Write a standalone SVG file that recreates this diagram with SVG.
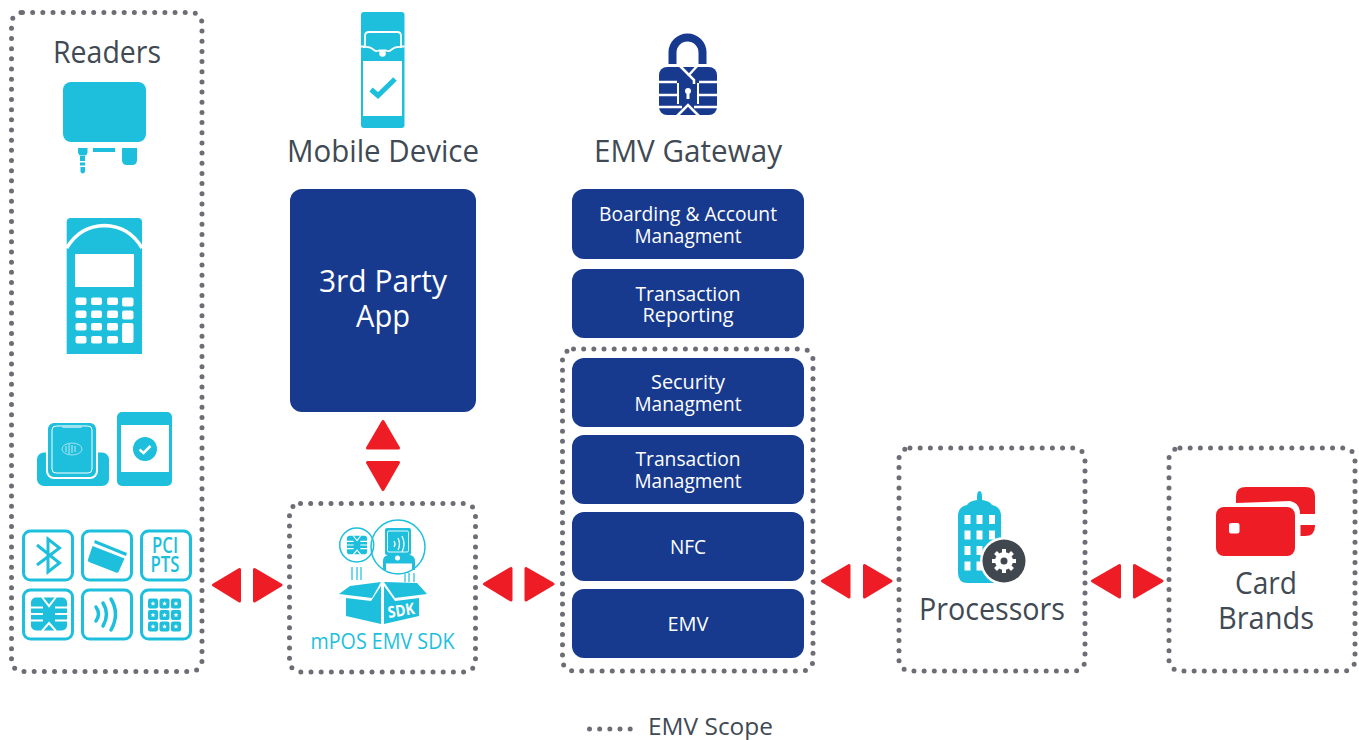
<svg xmlns="http://www.w3.org/2000/svg" xmlns:xlink="http://www.w3.org/1999/xlink" width="1359" height="740" viewBox="0 0 1359 740">
<style>
text{font-family:"Open Sans","Noto Sans","Liberation Sans",sans-serif;text-anchor:middle}
.h{font-size:31px;fill:#3f4a54}
.w{font-size:20px;fill:#fff}
.dot{fill:none;stroke:#6d6e75;stroke-width:5;stroke-linecap:round;stroke-dasharray:0 10.17}
.b{fill:#173a8e}
.c{fill:#1dbfdd}
.r{fill:#ee1c25;stroke:#ee1c25;stroke-width:3;stroke-linejoin:round}
.t{fill:none;stroke:#1dbfdd;stroke-width:3}
.wl{fill:none;stroke:#fff;stroke-width:2}
.wf{fill:#fff}
</style>
<defs>
<g id="chip">
<rect x="-18" y="-16.500" width="36" height="33" rx="5"/>
<g fill="none" stroke="#fff" stroke-width="2">
<path d="M-19-6.500H-6M-19 0H-6M-19 6.500H-6M19-6.500H6M19 0H6M19 6.500H6"/>
<path d="M-7-17L0-8L7-17M-7 17L0 9L7 17"/>
</g>
</g>
<polygon id="star" points="0,-2.400 .7,-.8 2.400,-.7 1.100,.4 1.500,2.100 0,1.200 -1.500,2.100 -1.100,.4 -2.400,-.7 -.7,-.8" fill="#fff"/>
</defs>

<g id="connectors">
<path class="r" d="M213.500 585L239.500 569.500V601Z"/>
<path class="r" d="M281 585L254.500 569.500V601Z"/>
<path class="r" d="M484.500 584L511 568.500V600Z"/>
<path class="r" d="M553 584L526 568.500V600Z"/>
<path class="r" d="M822.500 581L849 565.500V597Z"/>
<path class="r" d="M891 581L864.500 565.500V597Z"/>
<path class="r" d="M1092.500 581L1119.500 565.500V597Z"/>
<path class="r" d="M1162 581L1134.500 565.500V597Z"/>
<path class="r" d="M383 421.500L367.500 448H398.500Z"/>
<path class="r" d="M383 489.500L367.500 462.500H398.500Z"/>
</g>

<g id="readers">
<rect class="dot" x="11.500" y="12.500" width="190.500" height="659" rx="11"/>
<text class="h" x="107" y="63" textLength="108" lengthAdjust="spacingAndGlyphs">Readers</text>
<g class="c">
<rect x="63" y="82" width="83" height="60" rx="8"/>
<path d="M78 148H87.500V152.500Q87 155 85 155.500H80.500Q78.500 155 78 152.500Z"/>
<rect x="80" y="156" width="5" height="5"/>
<rect x="80" y="162.500" width="5" height="3"/>
<path d="M80.500 167H85V171.500Q84.500 173.500 82.800 173.500Q81 173.500 80.500 171.500Z"/>
<rect x="93" y="148" width="22" height="4"/>
<path d="M122 148H137V160Q137 165 132 165H127Q122 165 122 160Z"/>
</g>
<g>
<path class="c" d="M66.700 222Q66.700 218 70.700 218H138Q142 218 142 222V354H66.700Z"/>
<path d="M66.700 248Q80 226 104.400 225.500Q129 226 142 248" fill="none" stroke="#fff" stroke-width="3.500"/>
<rect class="wf" x="75" y="254" width="59" height="33" rx="1"/>
<g class="wf">
<rect x="75.500" y="297.500" width="11" height="7.500" rx="2"/><rect x="91" y="297.500" width="11" height="7.500" rx="2"/><rect x="107" y="297.500" width="11" height="7.500" rx="2"/><rect x="122" y="297.500" width="11.500" height="9" rx="2"/>
<rect x="75.500" y="310.500" width="11" height="7.500" rx="2"/><rect x="91" y="310.500" width="11" height="7.500" rx="2"/><rect x="107" y="310.500" width="11" height="7.500" rx="2"/><rect x="122" y="310.500" width="11.500" height="9" rx="2"/>
<rect x="75.500" y="323" width="11" height="7.500" rx="2"/><rect x="91" y="323" width="11" height="7.500" rx="2"/><rect x="107" y="323" width="11" height="7.500" rx="2"/><rect x="122" y="323" width="11.500" height="20" rx="2"/>
<rect x="75.500" y="336" width="11" height="7.500" rx="2"/><rect x="91" y="336" width="11" height="7.500" rx="2"/><rect x="107" y="336" width="11" height="7.500" rx="2"/>
</g>
</g>
<g>
<rect class="c" x="37" y="452.500" width="72" height="33.500" rx="7"/>
<rect class="c" x="47" y="422" width="50" height="56" rx="7" stroke="#fff" stroke-width="2"/>
<rect x="52" y="426" width="40" height="47" rx="4" fill="none" stroke="#fff" stroke-width="1"/>
<rect x="62" y="425" width="20" height="3" rx="1.500" fill="#9fe3f0"/>
<ellipse cx="72" cy="449" rx="10" ry="6" fill="none" stroke="#bfeaf4" stroke-width=".8"/>
<path d="M66 446V452M69 444V454M72 445V453M75 446V452" stroke="#bfeaf4" stroke-width="1" fill="none"/>
<rect class="c" x="117" y="412" width="55" height="74" rx="5"/>
<rect class="wf" x="121" y="425" width="48" height="47"/>
<circle class="c" cx="145" cy="449" r="12"/>
<path d="M139.500 449.500L143.500 453L150.500 446" fill="none" stroke="#fff" stroke-width="2.500"/>
</g>
<rect class="t" x="23.500" y="531" width="49" height="49" rx="7"/>
<rect class="t" x="82.500" y="531" width="49" height="49" rx="7"/>
<rect class="t" x="141.500" y="531" width="49" height="49" rx="7"/>
<rect class="t" x="23.500" y="590" width="49" height="49" rx="7"/>
<rect class="t" x="82.500" y="590" width="49" height="49" rx="7"/>
<rect class="t" x="141.500" y="590" width="49" height="49" rx="7"/>
<path d="M37 545L59.500 563L48 572V539L59.500 548L37 565" fill="none" stroke="#1dbfdd" stroke-width="3"/>
<g class="c">
<path d="M95 540L127 553L126 556L94 543Z"/>
<path d="M92.500 546L124.500 558.500L118.500 572Q117.500 573 116 572.500L89 562Q87.500 561 88 559.500Z"/>
</g>
<text x="165" y="553" font-size="21" font-weight="600" style="fill:#1dbfdd" textLength="26" lengthAdjust="spacingAndGlyphs">PCI</text>
<text x="165" y="572" font-size="21" font-weight="600" style="fill:#1dbfdd" textLength="29" lengthAdjust="spacingAndGlyphs">PTS</text>
<use xlink:href="#chip" href="#chip" class="c" transform="translate(49 614)"/>
<path d="M96 607Q101 614 96 621M103 603Q110 614 103 626M111 599Q120 614 111 630" fill="none" stroke="#1dbfdd" stroke-width="3.500" stroke-linecap="round"/>
<g class="c">
<rect x="148" y="598.500" width="10" height="10" rx="2"/><rect x="159.500" y="598.500" width="10" height="10" rx="2"/><rect x="171" y="598.500" width="10" height="10" rx="2"/>
<rect x="148" y="610" width="10" height="10" rx="2"/><rect x="159.500" y="610" width="10" height="10" rx="2"/><rect x="171" y="610" width="10" height="10" rx="2"/>
<rect x="148" y="621.500" width="10" height="10" rx="2"/><rect x="159.500" y="621.500" width="10" height="10" rx="2"/><rect x="171" y="621.500" width="10" height="10" rx="2"/>
</g>
<use xlink:href="#star" href="#star" x="153" y="603.500"/><use xlink:href="#star" href="#star" x="164.500" y="603.500"/><use xlink:href="#star" href="#star" x="176" y="603.500"/>
<use xlink:href="#star" href="#star" x="153" y="615"/><use xlink:href="#star" href="#star" x="164.500" y="615"/><use xlink:href="#star" href="#star" x="176" y="615"/>
<use xlink:href="#star" href="#star" x="153" y="626.500"/><use xlink:href="#star" href="#star" x="164.500" y="626.500"/><use xlink:href="#star" href="#star" x="176" y="626.500"/>
</g>

<g id="mobile-device">
<rect class="c" x="361" y="12" width="43.500" height="116" rx="3"/>
<rect class="wf" x="363" y="61" width="39" height="55"/>
<path d="M361 46.500H365V36Q365 32 369 32H397Q401 32 401 36V46.500H404.500" fill="none" stroke="#fff" stroke-width="1.800"/>
<path d="M363 47Q370 46 374 50Q376 52 379 50.500H386Q389 52 391 50Q395 46 402 47" fill="none" stroke="#fff" stroke-width="1.800"/>
<circle class="wf" cx="382.500" cy="53.500" r="3.300"/>
<path d="M371 89.500L378 95.500L395 79" fill="none" stroke="#1dbfdd" stroke-width="5"/>
<text class="h" x="383" y="162" textLength="192" lengthAdjust="spacingAndGlyphs">Mobile Device</text>
</g>

<g id="third-party-app">
<rect class="b" x="290" y="189" width="186" height="223" rx="12"/>
<text x="383" y="292" font-size="31" fill="#fff" textLength="128" lengthAdjust="spacingAndGlyphs">3rd Party</text>
<text x="383" y="327" font-size="31" fill="#fff" textLength="54" lengthAdjust="spacingAndGlyphs">App</text>
</g>

<g id="mpos-sdk">
<rect class="dot" x="289.500" y="503.500" width="186" height="168.500" rx="11"/>
<circle cx="356.700" cy="545" r="17" fill="none" stroke="#1dbfdd" stroke-width="1.500"/>
<circle cx="398" cy="547" r="27" fill="none" stroke="#1dbfdd" stroke-width="1.500"/>
<use xlink:href="#chip" href="#chip" class="c" transform="translate(357 545) scale(.56)"/>
<g class="c">
<rect x="385" y="528" width="26" height="27" rx="2"/>
<path d="M383 570V561Q383 556 388 555H410Q415 556 415 561V570H412V563.500H386V570Z"/>
</g>
<rect x="387.500" y="531" width="21" height="21" rx="1.500" fill="none" stroke="#fff" stroke-width=".9"/>
<circle class="wf" cx="397.500" cy="558" r="2.500"/>
<path d="M394 541Q396 544 394 547M398 538Q401 544 398 550M402 536Q406 544 402 552" fill="none" stroke="#fff" stroke-width="1.300"/>
<path d="M352 567V580M357 567V580M361 567V580M405 574V582M409 573V582M414 573V582" stroke="#1dbfdd" stroke-width="1.200" fill="none"/>
<g class="c">
<path d="M339 594L350 586L381 582L372 598Z"/>
<path d="M384 582L417 583L427 594L395 598Z"/>
<path d="M346 598L371 601L381 586V624L346 616Z"/>
<path d="M384 586L395 601L419 598V616L384 624Z"/>
</g>
<text transform="translate(402 616) rotate(-9)" font-size="16" font-weight="700" fill="#fff" textLength="27" lengthAdjust="spacingAndGlyphs">SDK</text>
<text x="382.500" y="649" font-size="21" style="fill:#1dbfdd" textLength="144" lengthAdjust="spacingAndGlyphs">mPOS EMV SDK</text>
</g>

<g id="emv-gateway">
<path d="M672.500 64V52.500A15 15 0 0 1 702.500 52.500V64" fill="none" stroke="#173a8e" stroke-width="8"/>
<rect class="b" x="659" y="67" width="58" height="48" rx="8"/>
<g fill="none" stroke="#fff" stroke-width="2.500">
<path d="M657 82H677M657 95H677M699 82H719M699 95H719M657 107H682M694 107H719"/>
<path d="M679 65L694 80V84M698 65L688 76M677 116L688 105L699 116"/>
</g>
<rect class="wf" x="677" y="83" width="2" height="21"/><rect class="wf" x="697" y="83" width="2" height="21"/>
<circle class="wf" cx="688" cy="91" r="3"/>
<rect class="wf" x="686.500" y="92" width="3" height="7"/>
<text class="h" x="688" y="162" textLength="188" lengthAdjust="spacingAndGlyphs">EMV Gateway</text>
<rect class="dot" x="562.500" y="349" width="250.500" height="322" rx="11"/>
</g>
<g id="boarding"><rect class="b" x="572" y="189" width="232" height="70" rx="12"/><text class="w" x="688" y="221" textLength="178" lengthAdjust="spacingAndGlyphs">Boarding &amp; Account</text><text class="w" x="688" y="243" textLength="107" lengthAdjust="spacingAndGlyphs">Managment</text></g>
<g id="reporting"><rect class="b" x="572" y="269" width="232" height="69" rx="12"/><text class="w" x="688" y="301" textLength="105" lengthAdjust="spacingAndGlyphs">Transaction</text><text class="w" x="688" y="322" textLength="91" lengthAdjust="spacingAndGlyphs">Reporting</text></g>
<g id="security"><rect class="b" x="572" y="358" width="232" height="69" rx="12"/><text class="w" x="688" y="389" textLength="74" lengthAdjust="spacingAndGlyphs">Security</text><text class="w" x="688" y="411" textLength="107" lengthAdjust="spacingAndGlyphs">Managment</text></g>
<g id="transaction"><rect class="b" x="572" y="435" width="232" height="69" rx="12"/><text class="w" x="688" y="466" textLength="105" lengthAdjust="spacingAndGlyphs">Transaction</text><text class="w" x="688" y="488" textLength="107" lengthAdjust="spacingAndGlyphs">Managment</text></g>
<g id="nfc"><rect class="b" x="572" y="512" width="232" height="69" rx="12"/><text class="w" x="688" y="554" textLength="36" lengthAdjust="spacingAndGlyphs">NFC</text></g>
<g id="emv"><rect class="b" x="572" y="589" width="232" height="69" rx="12"/><text class="w" x="688" y="631" textLength="41" lengthAdjust="spacingAndGlyphs">EMV</text></g>

<g id="processors">
<rect class="dot" x="899" y="448" width="186" height="223" rx="11"/>
<path class="c" d="M977 497Q977 491 979.500 491Q982 491 982 497V500Q990 501 992 505Q1001 507 1001 516V583H968Q958 583 958 573V516Q958 507 967 505Q969 501 977 500Z"/>
<g class="wf">
<rect x="964.500" y="515" width="6" height="9"/><rect x="976.500" y="515" width="6" height="9"/><rect x="989" y="515" width="6" height="9"/>
<rect x="964.500" y="530.500" width="6" height="9"/><rect x="976.500" y="530.500" width="6" height="9"/><rect x="989" y="530.500" width="6" height="9"/>
<rect x="964.500" y="546" width="6" height="9"/><rect x="976.500" y="546" width="6" height="9"/>
<rect x="964.500" y="561.500" width="6" height="9"/><rect x="976.500" y="561.500" width="6" height="9"/>
</g>
<circle class="wf" cx="1004" cy="561" r="24"/>
<circle cx="1004" cy="561" r="21.500" fill="#40474f"/>
<circle class="wf" cx="1004" cy="561" r="9"/>
<path d="M1004 549V573M992 561H1016M995.500 552.500L1012.500 569.500M1012.500 552.500L995.500 569.500" stroke="#fff" stroke-width="4"/>
<circle cx="1004" cy="561" r="3.500" fill="#40474f"/>
<text class="h" x="992" y="620" textLength="146" lengthAdjust="spacingAndGlyphs">Processors</text>
</g>

<g id="card-brands">
<rect class="dot" x="1169" y="448" width="186" height="223" rx="11"/>
<path class="r" style="stroke:none" d="M1236 503V496Q1236 487 1246 487H1305Q1315 487 1315 496V514H1300Q1300 503 1290 501Z"/>
<path class="r" style="stroke:none" d="M1300.500 525H1315V526Q1315 536 1305 536H1300.500Z"/>
<rect class="r" style="stroke:none" x="1216" y="507" width="79" height="49" rx="8"/>
<rect class="wf" x="1229" y="523" width="10.500" height="10.500" rx="2"/>
<text class="h" x="1266" y="594" textLength="62" lengthAdjust="spacingAndGlyphs">Card</text>
<text class="h" x="1266" y="629" textLength="96" lengthAdjust="spacingAndGlyphs">Brands</text>
</g>

<g id="legend">
<path class="dot" d="M589.500 729H636"/>
<text x="710.500" y="734.500" font-size="23" fill="#3f4a54" textLength="125" lengthAdjust="spacingAndGlyphs">EMV Scope</text>
</g>
</svg>
